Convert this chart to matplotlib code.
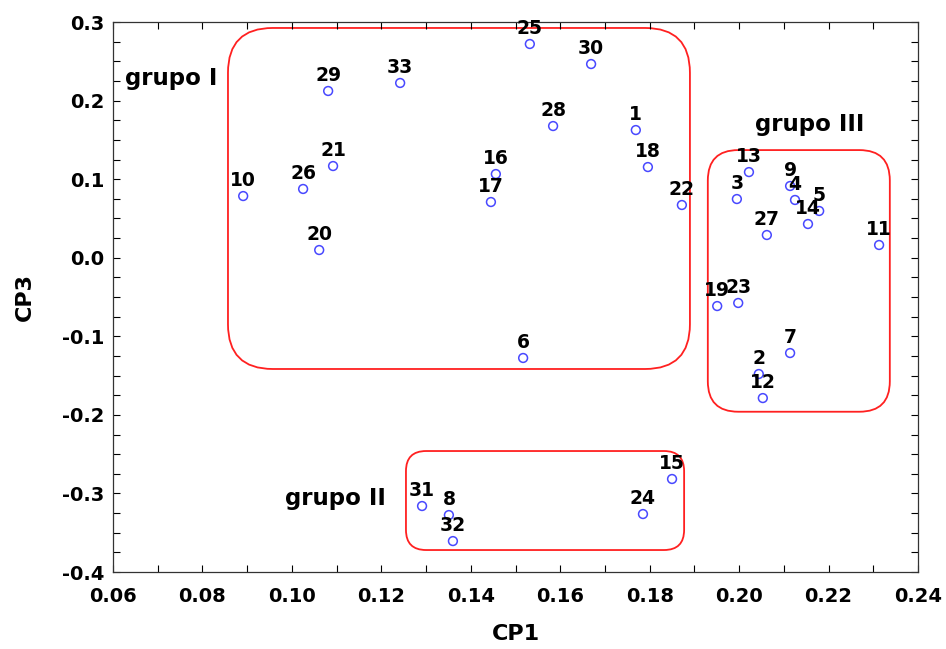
import matplotlib
matplotlib.use("Agg")
from matplotlib import pyplot as plt
from matplotlib.patches import FancyBboxPatch
from matplotlib.ticker import MultipleLocator, FormatStrFormatter

plt.rcParams['font.family'] = ['DejaVu Sans']

# sample numbers and their scores (CP1, CP3)
labels = ['1', '2', '3', '4', '5', '6', '7', '8', '9', '10', '11',
          '12', '13', '14', '15', '16', '17', '18', '19', '20', '21', '22',
          '23', '24', '25', '26', '27', '28', '29', '30', '31', '32', '33']
cp1 = [0.1769, 0.2044, 0.1995, 0.2125, 0.2179, 0.1517, 0.2114, 0.1351, 0.2114, 0.0891, 0.2313,
       0.2053, 0.2022, 0.2154, 0.1850, 0.1456, 0.1445, 0.1796, 0.1951, 0.1061, 0.1092, 0.1872,
       0.1998, 0.1785, 0.1532, 0.1025, 0.2062, 0.1584, 0.1081, 0.1669, 0.1291, 0.1360, 0.1242]
cp3 = [0.1625, -0.1480, 0.0747, 0.0735, 0.0595, -0.1276, -0.1213, -0.3275, 0.0913, 0.0785, 0.0162,
       -0.1786, 0.1090, 0.0429, -0.2816, 0.1065, 0.0709, 0.1154, -0.0615, 0.0098, 0.1167, 0.0671,
       -0.0576, -0.3262, 0.2720, 0.0875, 0.0289, 0.1676, 0.2122, 0.2465, -0.3160, -0.3606, 0.2224]

# group boxes: (x0, x1, y0, y1), corner radius in x units, label position
groups = ['grupo I', 'grupo II', 'grupo III']
boxes = [(0.0857, 0.1890, -0.1416, 0.2924),
         (0.1255, 0.1877, -0.3720, -0.2460),
         (0.1930, 0.2337, -0.1960, 0.1370)]
radii = [0.010, 0.0045, 0.0068]
group_text = [(0.0627, 0.2287), (0.0985, -0.3058), (0.2036, 0.1700)]

fig = plt.figure(figsize=(9.46, 6.49), dpi=100)
ax = fig.add_axes([0.1195, 0.1186, 0.8509, 0.8475])

ax.set_xlim(0.06, 0.24)
ax.set_ylim(-0.4, 0.3)
aspect = (0.7 / 550) / (0.18 / 805)

for (x0, x1, y0, y1), r in zip(boxes, radii):
    box = FancyBboxPatch((x0, y0), x1 - x0, y1 - y0,
                         boxstyle=f"round,pad=0,rounding_size={r}",
                         mutation_aspect=aspect, fill=False,
                         edgecolor='#ff2020', linewidth=1.3, zorder=1)
    ax.add_patch(box)

ax.scatter(cp1, cp3, s=40, facecolors='none', edgecolors='#4848ff',
           linewidths=1.1, zorder=3)

for lab, x, y in zip(labels, cp1, cp3):
    ax.annotate(lab, (x, y), xytext=(0, 11.5), textcoords='offset points',
                ha='center', va='center', fontsize=13.5, fontweight='bold',
                color='black', zorder=4)

for name, (tx, ty) in zip(groups, group_text):
    ax.text(tx, ty, name, ha='left', va='center', fontsize=16.5,
            fontweight='bold', color='black')

ax.xaxis.set_major_locator(MultipleLocator(0.02))
ax.xaxis.set_minor_locator(MultipleLocator(0.01))
ax.yaxis.set_major_locator(MultipleLocator(0.1))
ax.yaxis.set_minor_locator(MultipleLocator(0.025))
ax.xaxis.set_major_formatter(FormatStrFormatter('%.2f'))
ax.yaxis.set_major_formatter(FormatStrFormatter('%.1f'))
ax.tick_params(which='both', direction='in', top=True, right=True,
               length=5, width=0.8, labelsize=14, colors='black')
for t in ax.get_xticklabels() + ax.get_yticklabels():
    t.set_fontweight('bold')
ax.tick_params(axis='x', pad=11)
ax.tick_params(axis='y', pad=6)

for s in ax.spines.values():
    s.set_linewidth(0.9)
    s.set_color('#333333')

ax.set_xlabel('CP1', fontsize=16, fontweight='bold', labelpad=13)
ax.set_ylabel('CP3', fontsize=16, fontweight='bold', labelpad=20)

plt.savefig('out.png', dpi=100)
